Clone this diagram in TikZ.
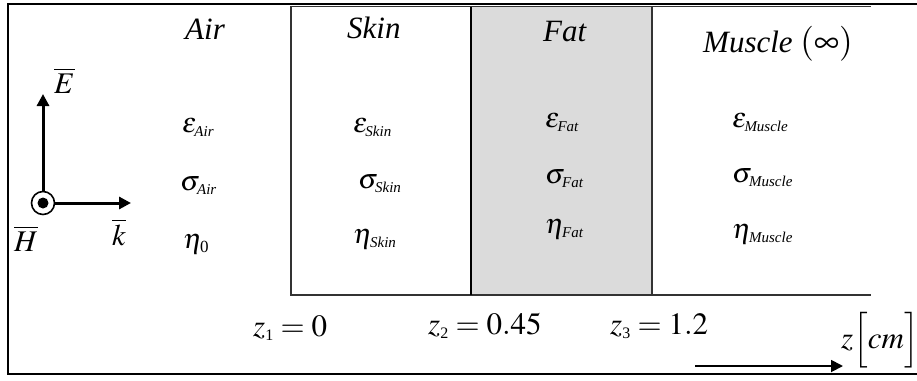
\documentclass[tikz,border=0pt]{standalone}
\usepackage{mathptmx}
\usepackage[no-math]{fontspec}
\setmainfont{Liberation Serif}
\usetikzlibrary{arrows.meta}
\newcommand\sbx[1]{\mbox{\fontsize{15}{15}\selectfont\itshape #1}}
\begin{document}
\begin{tikzpicture}[x=1pt,y=-1pt,
  lab/.style={font=\fontsize{31}{31}\selectfont\itshape, inner sep=0, anchor=base west},
  prm/.style={font=\fontsize{28}{28}\selectfont, inner sep=0, anchor=base west},
  zl/.style={font=\fontsize{31}{31}\selectfont, inner sep=0, anchor=base west},
  vec/.style={font=\fontsize{30}{30}\selectfont, inner sep=0, anchor=base west},
  arr/.style={line width=3pt, -{Triangle[length=12pt,width=12pt]}},
  layer/.style={line width=1.4pt, black!80},
  fatfill/.style={fill=black!14}]
\useasboundingbox (0,0) rectangle (917,380);
% layers
\fill[fatfill] (471,7) rectangle (652,295);
\draw[line width=1.6pt] (930,4) -- (8,4) -- (8,374) -- (930,374);
\draw[layer] (871,6.5) -- (291,6.5) -- (291,295) -- (871,295);
\draw[layer] (652,6.5) -- (652,295);
\draw[line width=2.6pt] (471,6.5) -- (471,295);
% region titles
\node[lab] (air) at (185,39) {Air};
\node[lab] (skin) at (347,38) {Skin};
\node[lab] (fat) at (543,41) {Fat};
\node[lab] (muscle) at (703,52) {Muscle\/ {\fontsize{35}{35}\selectfont$\left(\infty\right)$}};
% parameters
\node[prm] (eair) at (182,132) {$\varepsilon_{\sbx{Air}}$};
\node[prm] (sair) at (180,190) {$\sigma_{\sbx{Air}}$};
\node[prm] (nair) at (183,248) {$\eta_{\mbox{\fontsize{17}{17}\selectfont 0}}$};
\node[prm] (eskin) at (353,132) {$\varepsilon_{\sbx{Skin}}$};
\node[prm] (sskin) at (358,188) {$\sigma_{\sbx{Skin}}$};
\node[prm] (nskin) at (353,243) {$\eta_{\sbx{Skin}}$};
\node[prm] (efat) at (545,127) {$\varepsilon_{\sbx{Fat}}$};
\node[prm] (sfat) at (545,183) {$\sigma_{\sbx{Fat}}$};
\node[prm] (nfat) at (545,233) {$\eta_{\sbx{Fat}}$};
\node[prm] (emus) at (732,127) {$\varepsilon_{\sbx{Muscle}}$};
\node[prm] (smus) at (732,182) {$\sigma_{\sbx{Muscle}}$};
\node[prm] (nmus) at (732,238) {$\eta_{\sbx{Muscle}}$};
% field vectors
\node[circle, draw, line width=1.6pt, minimum size=23pt, inner sep=0] (o) at (43,203) {};
\fill (o.center) circle (5.5);
\coordinate (tipE) at (43,94);
\coordinate (tipK) at (131,203);
\draw[arr] (o.north) -- (tipE);
\draw[arr] (o.east) -- (tipK);
\node[vec] (E) at (54,93) {$\overline{E}$};
\node[vec] (k) at (112,245) {$\overline{k}$};
\node[vec] (H) at (14,251) {$\overline{H}$};
% positions
\node[zl] (z1) at (253,336) {$z_{\mbox{\fontsize{16}{16}\selectfont 1}}=0$};
\node[zl] (z2) at (428,334) {$z_{\mbox{\fontsize{16}{16}\selectfont 2}}=0.45$};
\node[zl] (z3) at (610,334) {$z_{\mbox{\fontsize{16}{16}\selectfont 3}}=1.2$};
\node[zl] (zcm) at (841,348) {$z\Bigl[\mathit{cm}\Bigr]$};
\coordinate (za) at (695,366);
\coordinate (zb) at (843,366);
\draw[arr, line width=1.8pt] (za) -- (zb);
\end{tikzpicture}
\end{document}
